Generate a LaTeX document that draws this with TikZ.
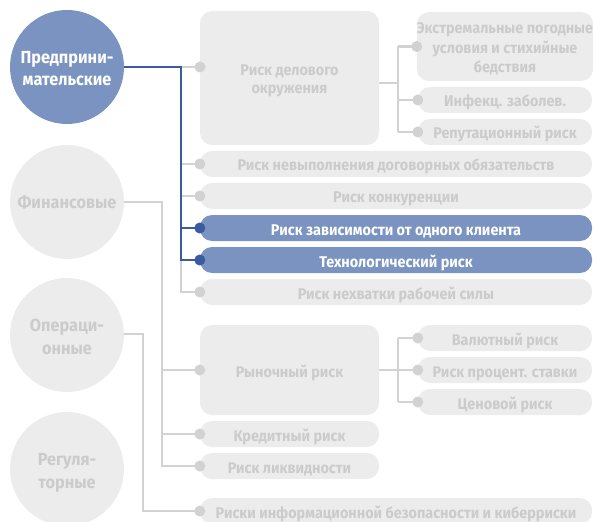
\documentclass[tikz,border=0pt]{standalone}
\usepackage{fontspec}
\setmainfont{Fira Sans}[FakeStretch=0.93]
\definecolor{bfill}{HTML}{7B93C1}
\definecolor{bline}{HTML}{3B5BA0}
\definecolor{gfill}{HTML}{ECECEC}
\definecolor{gtext}{HTML}{CBCBCB}
\definecolor{gline}{HTML}{D2D2D2}
\tikzset{
  x=1pt, y=-1pt,
  circ/.style={circle, minimum size=114pt, inner sep=0pt, fill=gfill, text=gtext, align=center,
     font=\bfseries\fontsize{17.5}{22.7}\selectfont, text height=38pt, text depth=0pt},
  circone/.style={circ, text height=12.6pt, text depth=0pt},
  bluecirc/.style={circ, fill=bfill, text=white},
  rbox/.style={rounded corners=12pt, fill=gfill, text=gtext, inner sep=0pt, align=center,
     font=\bfseries\fontsize{15.5}{17.7}\selectfont},
  twoline/.style={text height=30.6pt, text depth=0pt},
  threeline/.style={font=\bfseries\fontsize{15.5}{19.3}\selectfont, text height=52pt, text depth=0pt},
  pill/.style={rbox, rounded corners=12pt, minimum height=26pt, text height=14pt, text depth=0pt},
  bluepill/.style={pill, fill=bfill, text=white},
  gl/.style={draw=gline, line width=2.3pt},
  bl/.style={draw=bline, line width=2.3pt},
  gdot/.style={fill=gline},
  bdot/.style={fill=bline},
}
\begin{document}
\begin{tikzpicture}
\useasboundingbox (0,0) rectangle (593,521);
\clip (0,0) rectangle (593,521);
% circles
\node[bluecirc] (c1) at (67,67) {Предприни-\\мательские};
\node[circone] (c2) at (67,202) {Финансовые};
\node[circ] (c3) at (67,335) {Операци-\\онные};
\node[circ] (c4) at (67,469) {Регуля-\\торные};
% boxes group 1
\node[rbox, twoline, minimum width=179pt, minimum height=134pt] (b1) at (289.5,78) {Риск делового\\окружения};
\node[rbox, threeline, minimum width=174pt, minimum height=69pt] (b1a) at (505,46.5) {Экстремальные погодные\\условия и стихийные\\бедствия};
\node[pill, minimum width=174pt] (b1b) at (505,100) {Инфекц. заболев.};
\node[pill, minimum width=174pt] (b1c) at (505,132) {Репутационный риск};
\node[pill, minimum width=392pt] (p1) at (396,164) {Риск невыполнения договорных обязательств};
\node[pill, minimum width=392pt] (p2) at (396,196) {Риск конкуренции};
\node[bluepill, minimum width=392pt] (p3) at (396,228) {Риск зависимости от одного клиента};
\node[bluepill, minimum width=392pt] (p4) at (396,260) {Технологический риск};
\node[pill, minimum width=392pt] (p5) at (396,292) {Риск нехватки рабочей силы};
% group 2
\node[rbox, minimum width=179pt, minimum height=90pt, text height=14pt, text depth=0pt] (m1) at (289.5,370) {Рыночный риск};
\node[pill, minimum width=174pt] (m1a) at (505,338) {Валютный риск};
\node[pill, minimum width=174pt] (m1b) at (505,370) {Риск процент. ставки};
\node[pill, minimum width=174pt] (m1c) at (505,402) {Ценовой риск};
\node[pill, minimum width=179pt] (k1) at (289.5,434) {Кредитный риск};
\node[pill, minimum width=179pt] (k2) at (289.5,466) {Риск ликвидности};
% group 3
\node[pill, minimum width=392pt] (o1) at (396,511) {Риски информационной безопасности и киберриски};
% coordinates
\coordinate (s1) at (181,67);
\coordinate (d1) at (200,67);
\coordinate (s2) at (162,202);
\coordinate (s3) at (143,334);
\coordinate (t1) at (398,83);
\coordinate (t2) at (398,370);
% connectors group 1
\draw[gl] (s1) |- (p5.west);
\draw[gl] (s1) -- (d1);
\draw[gl] (s1 |- p1.west) -- (p1.west);
\draw[gl] (s1 |- p2.west) -- (p2.west);
\draw[bl] (c1.east) -- (s1) -- (s1 |- p4.west) -- (p4.west);
\draw[bl] (s1 |- p3.west) -- (p3.west);
\draw[gl] (b1.east |- t1) -- (t1);
\draw[gl] (t1 |- b1a.west) -- (t1 |- b1c.west);
\draw[gl] (t1 |- b1a.west) -- (b1a.west);
\draw[gl] (t1 |- b1b.west) -- (b1b.west);
\draw[gl] (t1 |- b1c.west) -- (b1c.west);
% group 2
\draw[gl] (c2.east) -- (s2) |- (k2.west);
\draw[gl] (s2 |- m1.west) -- (m1.west);
\draw[gl] (s2 |- k1.west) -- (k1.west);
\draw[gl] (m1.east) -- (t2);
\draw[gl] (t2 |- m1a.west) -- (t2 |- m1c.west);
\draw[gl] (t2 |- m1a.west) -- (m1a.west);
\draw[gl] (t2 |- m1b.west) -- (m1b.west);
\draw[gl] (t2 |- m1c.west) -- (m1c.west);
% group 3
\draw[gl] (c3.east |- s3) -- (s3) |- (o1.west);
% dots
\foreach \n in {b1a.west,b1b.west,b1c.west,p1.west,p2.west,p5.west,m1.west,m1a.west,m1b.west,m1c.west,k1.west,k2.west,o1.west}
  \fill[gdot] (\n) circle (5.5pt);
\fill[gdot] (d1) circle (5.5pt);
\fill[bdot] (p3.west) circle (5.5pt);
\fill[bdot] (p4.west) circle (5.5pt);
\end{tikzpicture}
\end{document}
